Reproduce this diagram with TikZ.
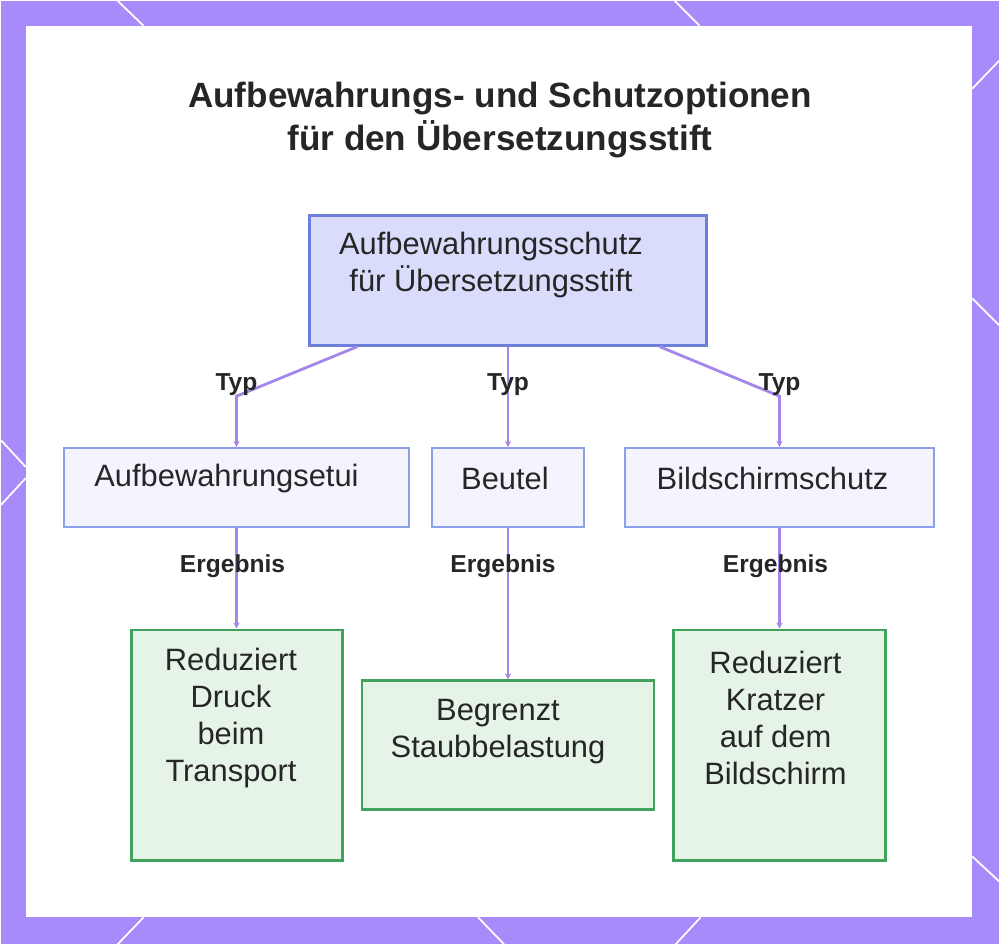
\documentclass[tikz,border=0pt]{standalone}
\usepackage{fontspec}
\setmainfont{Liberation Sans}
\usetikzlibrary{arrows.meta}
\definecolor{frame}{HTML}{A78BFA}
\definecolor{conn}{HTML}{A586EB}
\definecolor{rootfill}{HTML}{D9DCFA}
\definecolor{rootline}{HTML}{6D7FD8}
\definecolor{kidfill}{HTML}{F3F4FE}
\definecolor{kidline}{HTML}{8E9FEA}
\definecolor{resfill}{HTML}{E5F4E7}
\definecolor{resline}{HTML}{3FA35B}
\definecolor{ink}{HTML}{262626}
\newcommand\px{0.02cm}
\tikzset{
  rootbox/.style={draw=rootline,fill=rootfill,line width=1.6pt,inner sep=0pt},
  kidbox/.style={draw=kidline,fill=kidfill,line width=1.2pt,inner sep=0pt},
  resbox/.style={draw=resline,fill=resfill,line width=1.4pt,inner sep=0pt},
  boxtext/.style={text=ink,align=center,inner sep=0pt,font=\fontsize{17.6}{21.1}\selectfont},
  edgetext/.style={text=ink,inner sep=0pt,font=\bfseries\fontsize{14}{16}\selectfont},
  link/.style={draw=conn,line width=1.6pt,-{Stealth[length=3.5pt,width=3.5pt]}},
  deco/.style={draw=white,line width=1pt}
}
\begin{document}
\begin{tikzpicture}[x=0.02cm,y=-0.02cm]
	% frame and panel
	\fill[frame] (0,0) rectangle (1000,945);
	\fill[white] (25,25) rectangle (973,918);
	\draw[deco] (117,0) -- (143,25);
	\draw[deco] (675,0) -- (700,25);
	\draw[deco] (973,88) -- (1000,60);
	\draw[deco] (973,298) -- (1000,325);
	\draw[deco] (973,857) -- (1000,882);
	\draw[deco] (0,440) -- (25,467);
	\draw[deco] (25,478) -- (0,505);
	\draw[deco] (143,918) -- (117,945);
	\draw[deco] (478,918) -- (504,945);
	\draw[deco] (701,918) -- (676,945);
	\useasboundingbox (0,0) rectangle (1000,945);
	% title
	\node[text=ink,align=center,inner sep=0pt,font=\bfseries\fontsize{20}{24.5}\selectfont] (title) at (500,119)
		{Aufbewahrungs- und Schutzoptionen\\für den Übersetzungsstift};
	% boxes
	\node[rootbox,minimum width=398*\px,minimum height=130*\px] (root) at (508,280) {};
	\node[kidbox,minimum width=346*\px,minimum height=79*\px] (etui) at (236,487.5) {};
	\node[kidbox,minimum width=152*\px,minimum height=79*\px] (beutel) at (508,487.5) {};
	\node[kidbox,minimum width=310*\px,minimum height=79*\px] (schirm) at (780,487.5) {};
	\node[resbox,minimum width=211*\px,minimum height=231*\px] (druck) at (236.5,745.5) {};
	\node[resbox,minimum width=292*\px,minimum height=129*\px] (staub) at (508,745.5) {};
	\node[resbox,minimum width=212*\px,minimum height=231*\px] (kratzer) at (780,745.5) {};
	% box texts
	\node[boxtext] (roottxt) at ([shift={(-17,-15)}]root.center) {Aufbewahrungsschutz\\für Übersetzungsstift};
	\node[boxtext] (etuitxt) at ([shift={(-10,-9)}]etui.center) {Aufbewahrungsetui};
	\node[boxtext] (beuteltxt) at ([shift={(-3,-9)}]beutel.center) {Beutel};
	\node[boxtext] (schirmtxt) at ([shift={(-7,-9)}]schirm.center) {Bildschirmschutz};
	\node[boxtext] (drucktxt) at ([shift={(-6,-27)}]druck.center) {Reduziert\\Druck\\beim\\Transport};
	\node[boxtext] (staubtxt) at ([shift={(-10,-14)}]staub.center) {Begrenzt\\Staubbelastung};
	\node[boxtext] (kratzertxt) at ([shift={(-4,-27)}]kratzer.center) {Reduziert\\Kratzer\\auf dem\\Bildschirm};
	% connectors
	\coordinate (k1) at (236,396);
	\coordinate (k3) at (780,396);
	\draw[link] ([shift={(-151,0)}]root.south) -- (k1) -- (etui.north -| k1);
	\draw[link] (root.south) -- (beutel.north);
	\draw[link] ([shift={(152,0)}]root.south) -- (k3) -- (schirm.north -| k3);
	\draw[link] (etui.south) -- (druck.north -| etui.south);
	\draw[link] (beutel.south) -- (staub.north);
	\draw[link] (schirm.south) -- (kratzer.north -| schirm.south);
	% edge labels
	\node[edgetext] (typ1) at (236,384) {Typ};
	\node[edgetext] (typ2) at (508,384) {Typ};
	\node[edgetext] (typ3) at (780,384) {Typ};
	\node[edgetext] (erg1) at (232,566) {Ergebnis};
	\node[edgetext] (erg2) at (503,566) {Ergebnis};
	\node[edgetext] (erg3) at (776,566) {Ergebnis};
\end{tikzpicture}
\end{document}
